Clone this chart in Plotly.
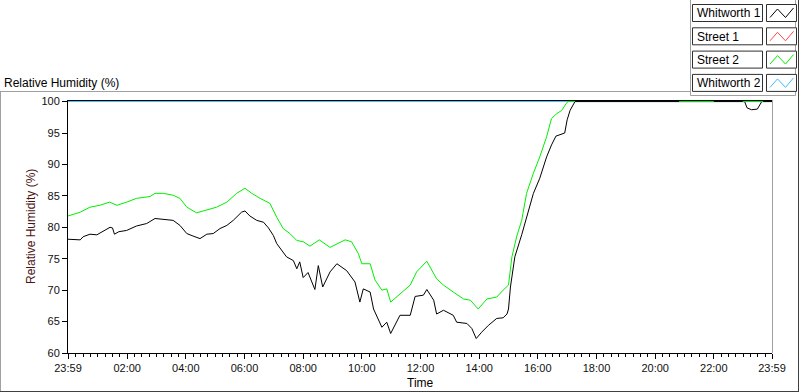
import plotly.graph_objects as go
from datetime import datetime, timedelta

# ---------------- data ----------------
BASE = datetime(2024, 1, 1)

tick_times = ["23:59", "02:00", "04:00", "06:00", "08:00", "10:00", "12:00",
              "14:00", "16:00", "18:00", "20:00", "22:00", "23:59"]
tick_labels = ["23:59", "02:00", "04:00", "06:00", "08:00", "10:00", "12:00",
               "14:00", "16:00", "18:00", "20:00", "22:00", "23:59"]
y_ticks = [60, 65, 70, 75, 80, 85, 90, 95, 100]

series_names = ["Whitworth 1", "Street 1", "Street 2", "Whitworth 2"]
series_colors = ["#000000", "#ff4848", "#00f000", "#3cbcff"]

w1_time = ["23:59", "00:24", "00:30", "00:44", "00:58", "01:11", "01:25", "01:30",
           "01:34", "01:43", "01:59", "02:19", "02:40", "02:57", "03:07", "03:34",
           "03:48", "04:02", "04:15", "04:29", "04:43", "04:56", "05:10", "05:24",
           "05:37", "05:54", "06:01", "06:11", "06:25", "06:39", "06:49", "06:59",
           "07:06", "07:16", "07:26", "07:40", "07:47", "07:53", "08:00", "08:10",
           "08:24", "08:31", "08:40", "08:55", "09:09", "09:29", "09:46", "09:56",
           "10:03", "10:17", "10:24", "10:41", "10:51", "10:59", "11:18", "11:39",
           "11:49", "12:06", "12:13", "12:27", "12:33", "12:47", "13:07", "13:14",
           "13:35", "13:45", "13:54", "14:05", "14:19", "14:36", "14:49", "14:57",
           "15:00", "15:04", "15:13", "15:27", "15:37", "15:51", "16:04", "16:18",
           "16:28", "16:37", "16:55", "17:00", "17:06", "17:16", "23:03", "23:08",
           "23:17", "23:29", "23:38", "23:59"]
w1_rh = [78.1, 78.0, 78.5, 78.9, 78.8, 79.4, 80.0, 79.9,
         78.9, 79.3, 79.5, 80.2, 80.6, 81.4, 81.3, 81.1,
         80.3, 79.0, 78.6, 78.2, 78.9, 79.0, 79.8, 80.3,
         81.1, 82.4, 82.6, 81.8, 81.1, 80.8, 79.9, 78.7,
         77.4, 76.3, 75.3, 74.7, 73.4, 74.5, 72.0, 72.8,
         70.1, 73.9, 70.5, 72.9, 74.2, 73.1, 71.3, 68.1,
         70.2, 69.7, 67.0, 64.1, 64.9, 63.1, 66.0, 66.0,
         69.0, 69.2, 70.1, 68.4, 66.2, 66.8, 66.0, 64.9,
         64.7, 63.9, 62.3, 63.3, 64.4, 65.5, 65.6, 66.2,
         67.0, 70.5, 75.3, 78.8, 81.4, 85.4, 87.8, 91.2,
         93.1, 94.5, 95.0, 97.1, 98.6, 100.0, 100.0, 99.0,
         98.7, 98.8, 100.0, 100.0]

s1_time = []
s1_rh = []

s2_time = ["23:59", "00:24", "00:44", "01:04", "01:24", "01:39", "01:59", "02:19",
           "02:47", "02:57", "03:14", "03:34", "03:48", "04:02", "04:22", "04:43",
           "05:03", "05:24", "05:44", "06:01", "06:15", "06:32", "06:52", "07:06",
           "07:19", "07:33", "07:47", "08:00", "08:14", "08:33", "08:55", "09:26",
           "09:39", "09:53", "10:00", "10:17", "10:27", "10:41", "10:51", "10:59",
           "11:18", "11:39", "11:52", "12:13", "12:33", "12:47", "13:07", "13:28",
           "13:42", "13:58", "14:16", "14:36", "14:49", "15:00", "15:07", "15:17",
           "15:27", "15:37", "15:51", "16:04", "16:18", "16:28", "16:39", "16:49",
           "16:58", "17:02", "17:16", "17:17", "20:49", "22:00", "22:01", "22:59",
           "23:41", "23:42"]
s2_rh = [81.8, 82.4, 83.2, 83.5, 84.0, 83.5, 84.0, 84.6,
         84.9, 85.4, 85.4, 85.1, 84.6, 83.2, 82.3, 82.7,
         83.2, 84.0, 85.4, 86.2, 85.4, 84.6, 83.8, 81.6,
         79.8, 79.0, 77.9, 77.7, 77.0, 78.0, 76.8, 78.0,
         77.7, 75.8, 74.2, 74.2, 71.6, 70.0, 70.2, 68.1,
         69.4, 70.8, 72.9, 74.6, 71.8, 70.8, 69.7, 68.6,
         68.4, 67.0, 68.6, 68.9, 70.0, 70.8, 75.3, 78.6,
         81.1, 85.4, 88.6, 91.2, 94.4, 97.3, 98.1, 98.6,
         99.7, 100.0, 100.0, None, 100.0, 100.0, None, 100.0,
         100.0, None]

w2_time = ["23:59", "12:00", "23:59"]
w2_rh = [100.0, 100.0, 100.0]


def to_dt(clock_list):
    """Clock strings -> datetimes, rolling over to the next day when time decreases."""
    out, day, prev = [], 0, None
    for c in clock_list:
        h, m = map(int, c.split(":"))
        mins = h * 60 + m
        if prev is not None and mins < prev:
            day += 1
        prev = mins
        out.append(BASE + timedelta(days=day, minutes=mins))
    return out


# ---------------- layout geometry ----------------
W, H = 800, 392
L, R, T, B = 68, 28, 100, 39
PW, PH = W - L - R, H - T - B


def px(x):
    return (x - L) / PW


def py(y):
    return (H - B - y) / PH


FONT = "Liberation Sans, Arial, sans-serif"

fig = go.Figure()

order = [3, 1, 0, 2]
data_t = [w1_time, s1_time, s2_time, w2_time]
data_v = [w1_rh, s1_rh, s2_rh, w2_rh]
for i in order:
    fig.add_trace(go.Scatter(
        x=to_dt(data_t[i]), y=data_v[i], mode="lines", name=series_names[i],
        line=dict(color=series_colors[i], width=1), connectgaps=False,
        hoverinfo="skip", showlegend=False))

tick_dt = to_dt(tick_times)

fig.update_xaxes(
    type="date", range=[tick_dt[0], tick_dt[-1]],
    tickmode="array", tickvals=tick_dt, ticktext=tick_labels,
    ticks="outside", ticklen=5, tickwidth=1, tickcolor="#000000",
    showline=True, linecolor="#000000", linewidth=1,
    showgrid=False, zeroline=False, automargin=False,
    tickfont=dict(family=FONT, size=11, color="#101010"),
    minor=dict(ticks="outside", ticklen=3, tickwidth=1, tickcolor="#000000",
               dtick=15 * 60 * 1000, tick0="2024-01-02 00:00", showgrid=False),
)
fig.update_yaxes(
    range=[60, 100.25], tickmode="array", tickvals=y_ticks,
    ticktext=[str(v) for v in y_ticks],
    ticks="outside", ticklen=5, tickwidth=1, tickcolor="#000000",
    showline=True, linecolor="#000000", linewidth=1,
    showgrid=False, zeroline=False, automargin=False,
    tickfont=dict(family=FONT, size=11, color="#101010"),
)

shapes = []


def line(x0, y0, x1, y1, color, width=1):
    shapes.append(dict(type="line", xref="paper", yref="paper",
                       x0=px(x0), y0=py(y0), x1=px(x1), y1=py(y1),
                       line=dict(color=color, width=width), layer="above"))


def rect(x0, y0, x1, y1, color, fill="#ffffff"):
    shapes.append(dict(type="rect", xref="paper", yref="paper",
                       x0=px(x0), y0=py(y0), x1=px(x1), y1=py(y1),
                       line=dict(color=color, width=1), fillcolor=fill, layer="above"))


# plot frame: top black, right grey
line(L, T + 0.5, W - R, T + 0.5, "#000000")
line(W - R + 0.5, T, W - R + 0.5, H - B, "#a0a0a0")

# outer control frame
line(0.5, 91.5, 0.5, 391.5, "#a0a0a0")
line(0, 91.5, 690.5, 91.5, "#a0a0a0")
line(0, 391.5, 799, 391.5, "#404040")
line(798.5, 0, 798.5, 391.5, "#404040")

# legend container
line(690.5, 0, 690.5, 95.5, "#a0a0a0")
line(690.5, 95.5, 795.5, 95.5, "#a0a0a0")
line(795.5, 0, 795.5, 95.5, "#a0a0a0")

annotations = []
for i, name in enumerate(series_names):
    top = 4.5 + i * 23.3
    rect(692.5, top, 762.5, top + 17, "#303030")
    rect(766.5, top, 796.5, top + 17, "#303030")
    path = "M {:.5f},{:.5f} L {:.5f},{:.5f} L {:.5f},{:.5f} L {:.5f},{:.5f}".format(
        px(770), py(top + 13), px(777.5), py(top + 4.5),
        px(785.5), py(top + 13), px(793.5), py(top + 3.5))
    shapes.append(dict(type="path", xref="paper", yref="paper", path=path,
                       line=dict(color=series_colors[i], width=1), layer="above"))
    annotations.append(dict(xref="paper", yref="paper", x=px(695), y=py(top + 8.8),
                            xanchor="left", yanchor="middle", showarrow=False,
                            text=name, font=dict(family=FONT, size=12, color="#000000")))

# titles
annotations.append(dict(xref="paper", yref="paper", x=px(2), y=py(83),
                        xanchor="left", yanchor="middle", showarrow=False,
                        text="Relative Humidity (%)",
                        font=dict(family=FONT, size=12, color="#000000")))
annotations.append(dict(xref="paper", yref="paper", x=px(31), y=py(227),
                        xanchor="center", yanchor="middle", showarrow=False,
                        text="Relative Humidity (%)", textangle=-90,
                        font=dict(family=FONT, size=12, color="#4a1414")))
annotations.append(dict(xref="paper", yref="paper", x=px(420), y=py(383),
                        xanchor="center", yanchor="middle", showarrow=False,
                        text="Time", font=dict(family=FONT, size=12, color="#000000")))

fig.update_layout(
    width=W, height=H,
    margin=dict(l=L, r=R, t=T, b=B, pad=0, autoexpand=False),
    paper_bgcolor="#ffffff", plot_bgcolor="#ffffff",
    showlegend=False, shapes=shapes, annotations=annotations,
    font=dict(family=FONT, size=11, color="#000000"),
)

fig.write_html("out.html", config={"displayModeBar": False})

# remove the browser's default page margin so the figure sits at (0, 0)
with open("out.html", "r", encoding="utf-8") as f:
    html = f.read()
html = html.replace("<head>", "<head><style>html,body{margin:0;padding:0;overflow:hidden;}</style>", 1)
with open("out.html", "w", encoding="utf-8") as f:
    f.write(html)
